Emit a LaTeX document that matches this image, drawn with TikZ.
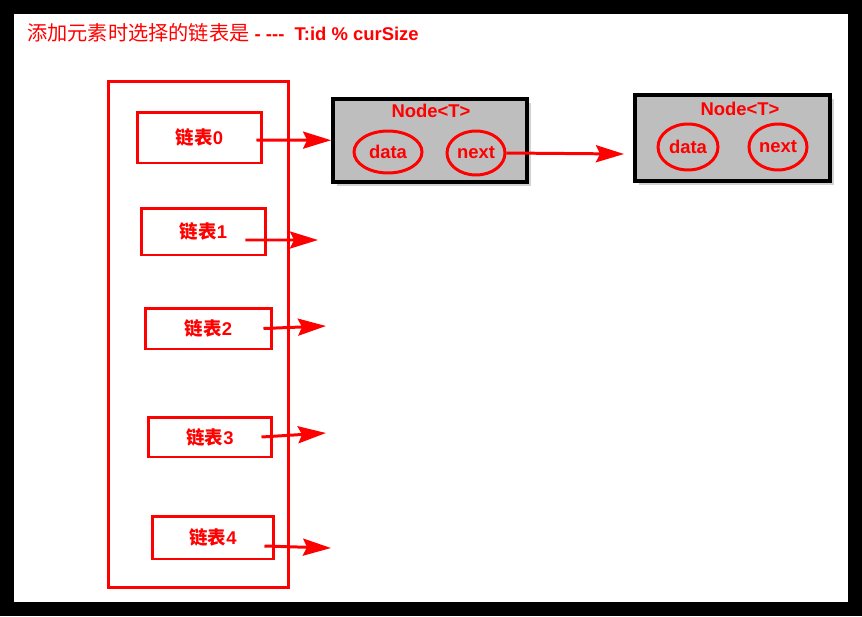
\documentclass[tikz,border=0pt]{standalone}
\usepackage{fontspec}
\setmainfont{Liberation Sans}
\newfontfamily\cjk{Noto Sans CJK SC}
\usetikzlibrary{shapes.geometric, arrows.meta, shadows, positioning}
\definecolor{boxgray}{RGB}{190,190,190}
\newcommand{\lb}[1]{{\cjk 链表}#1}
\tikzstyle{listbox} = [rectangle, draw=red, line width=1.7pt, text=red, font=\fontsize{10.5}{12}\selectfont\bfseries]
\tikzstyle{nodebox} = [rectangle, draw=black, line width=2.2pt, fill=boxgray, drop shadow={opacity=0.35, shadow xshift=2pt, shadow yshift=-2pt}]
\tikzstyle{field} = [ellipse, draw=red, line width=1.7pt, inner sep=0pt, text=red, font=\fontsize{10.5}{12}\selectfont\bfseries]
\tikzstyle{label} = [text=red, inner sep=0pt, font=\fontsize{10.5}{12}\selectfont\bfseries]
\tikzstyle{arrow} = [red, line width=1.7pt, -{Stealth[length=0.56cm, width=0.34cm, inset=0.08cm]}]

\begin{document}
\begin{tikzpicture}[x=0.02cm, y=-0.02cm]
        % frame
        \fill[black] (0,0) rectangle (862,616);
        \fill[white] (14,14) rectangle (848,602);
        \node[label, anchor=west] (title) at (27,33) {{\cjk\mdseries\fontsize{11.5}{13}\selectfont 添加元素时选择的链表是} -{} -{}-{}-~~T:id \% curSize};
        % table of lists
        \node[listbox, minimum width=3.62cm, minimum height=10.14cm] (table) at (198.5,334.5) {};
        \node[listbox, minimum width=2.5cm, minimum height=1.02cm] (list0) at (199.5,137.5) {\lb{0}};
        \node[listbox, minimum width=2.5cm, minimum height=0.94cm] (list1) at (203.5,231.5) {\lb{1}};
        \node[listbox, minimum width=2.54cm, minimum height=0.82cm] (list2) at (208.5,328.5) {\lb{2}};
        \node[listbox, minimum width=2.48cm, minimum height=0.8cm] (list3) at (210,437) {\lb{3}};
        \node[listbox, minimum width=2.44cm, minimum height=0.86cm] (list4) at (213,537.5) {\lb{4}};
        % nodes
        \node[nodebox, minimum width=3.88cm, minimum height=1.66cm] (node1) at (430,140.5) {};
        \node[label] (name1) at (431,111) {Node<T>};
        \node[field, minimum width=1.36cm, minimum height=0.84cm] (data1) at (388,152) {data};
        \node[field, minimum width=1.16cm, minimum height=0.88cm] (next1) at (476,153) {next};
        \node[nodebox, minimum width=3.9cm, minimum height=1.72cm] (node2) at (732.5,138) {};
        \node[label] (name2) at (740,109) {Node<T>};
        \node[field, minimum width=1.2cm, minimum height=0.92cm] (data2) at (688,147) {data};
        \node[field, minimum width=1.16cm, minimum height=0.92cm] (next2) at (778,147) {next};
        % arrows
        \coordinate (end1) at (318,240);
        \coordinate (end2) at (326,326);
        \coordinate (end3) at (326,433);
        \coordinate (end4) at (331,548);
        \coordinate (end5) at (624,154);
        \draw[arrow] ([xshift=-0.14cm, yshift=-0.05cm]list0.east) -- (node1);
        \draw[arrow] ([xshift=-0.44cm, yshift=-0.17cm]list1.east) -- (end1);
        \draw[arrow] ([xshift=-0.2cm]list2.east) -- (end2);
        \draw[arrow] ([xshift=-0.24cm]list3.east) -- (end3);
        \draw[arrow] ([xshift=-0.22cm, yshift=-0.17cm]list4.east) -- (end4);
        \draw[arrow] (next1.east) -- (end5);
    \end{tikzpicture}
\end{document}
